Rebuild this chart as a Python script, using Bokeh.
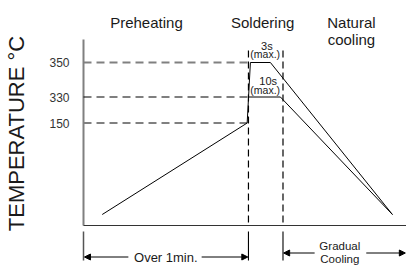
import numpy as np
from bokeh.plotting import figure
from bokeh.models import Range1d, FixedTicker, Arrow, NormalHead
from bokeh.core.properties import value
from bokeh.embed import file_html
from bokeh.resources import INLINE

# ---------------- data ----------------
TICK_TEMPS = [150, 330, 350]
TICK_LABELS = ["150", "330", "350"]

# reflow profile (schematic time units, °C)
PROFILE_350_T = [5.8, 50.7, 51.7, 57.9, 95.7]
PROFILE_350_C = [25, 150, 350, 350, 25]
PROFILE_330_T_END = [61.0, 95.7]          # plateau end, cooled
PROFILE_330_C = [330, 330, 25]

ZONE_EDGES = [51.1, 61.8]                 # preheat | soldering | cooling
ZONE_NAMES = ["Preheating", "Soldering", "Natural\ncooling"]
HOLD_LABELS = ["3s\n(max.)", "10s\n(max.)"]
DIM_LABELS = ["Over 1min.", "Gradual\nCooling"]
Y_TITLE = "TEMPERATURE °C"

# ---------------- schematic temperature scale ----------------
SCALE_T = [0, 25, 150, 330, 350]
SCALE_LV = [41, 52, 143.5, 169.5, 204]
def lv(t):
    return np.interp(t, SCALE_T, SCALE_LV)

FONT = value("Liberation Sans")
INK = "#1a1a1a"
GREY = "#808080"
X_END = 100.0
TXT_SHIFT = 4  # compensate svg baseline offset

p = figure(width=406, height=266, output_backend="svg", toolbar_location=None,
           x_range=Range1d(-0.93, 100.06), y_range=Range1d(0, 266),
           min_border_left=80, min_border_right=0, min_border_top=0, min_border_bottom=0)
p.xaxis.visible = False
p.grid.visible = False
p.outline_line_color = None
p.background_fill_color = "white"

ax = p.yaxis[0]
ax.ticker = FixedTicker(ticks=[float(lv(t)) for t in TICK_TEMPS])
ax.major_label_overrides = {float(lv(t)): s for t, s in zip(TICK_TEMPS, TICK_LABELS)}
ax.axis_line_color = None
ax.major_tick_line_color = None
ax.minor_tick_line_color = None
ax.major_label_standoff = 5
ax.major_label_text_font = "Liberation Sans"
ax.major_label_text_font_size = "12px"
ax.major_label_text_color = "#333333"
ax.axis_label = Y_TITLE
ax.axis_label_text_font = "Liberation Sans"
ax.axis_label_text_font_size = "22px"
ax.axis_label_text_font_style = "normal"
ax.axis_label_text_color = INK
ax.axis_label_standoff = 17

base = float(lv(0))
# axes lines
p.segment(x0=[0], y0=[base], x1=[0], y1=[227], line_color=GREY, line_width=2)
p.segment(x0=[0], y0=[base], x1=[X_END], y1=[base], line_color="#333333", line_width=1.2)

# horizontal reference dashes
t350 = PROFILE_350_T
ys = lv(np.array(PROFILE_350_C))
x330 = float(np.interp(lv(330), [ys[1], ys[2]], [t350[1], t350[2]]))
p.segment(x0=[0], y0=[lv(350)], x1=[t350[2]], y1=[lv(350)], line_color=GREY, line_width=2, line_dash="8 5")
p.segment(x0=[0], y0=[lv(330)], x1=[x330], y1=[lv(330)], line_color="black", line_width=1.2, line_dash="8 5")
p.segment(x0=[0], y0=[lv(150)], x1=[t350[1]], y1=[lv(150)], line_color=GREY, line_width=2, line_dash="8 5")

# zone boundaries
for xe in ZONE_EDGES:
    p.segment(x0=[xe], y0=[216], x1=[xe], y1=[base], line_color="black", line_width=1.2, line_dash="7 4")
# extension lines below axis
for xe in [0] + ZONE_EDGES:
    p.segment(x0=[xe], y0=[35], x1=[xe], y1=[6], line_color="#555555" if xe == 0 else "black",
              line_width=1.5 if xe == 0 else 1.1)

# profiles
p.line(PROFILE_350_T, lv(np.array(PROFILE_350_C)), line_color="black", line_width=1)
p.line([x330] + PROFILE_330_T_END, lv(np.array(PROFILE_330_C)), line_color="black", line_width=1)

# dimension arrows
def arrow(xs, xe, y):
    p.add_layout(Arrow(end=NormalHead(size=6, fill_color="black", line_color="black"),
                       x_start=xs, y_start=y, x_end=xe, y_end=y, line_color="black", line_width=1))
arrow(13.9, 0.3, 9.5)
arrow(36.6, ZONE_EDGES[0] - 0.2, 9.5)
arrow(71.6, ZONE_EDGES[1] + 0.2, 13.5)
arrow(87.6, X_END - 0.3, 13.5)

def txt(x, y, s, size, align="center", baseline="alphabetic"):
    p.text(x=[x], y=[y + TXT_SHIFT], text=[s], text_font=FONT, text_font_size=size, text_color=INK,
           text_align=align, text_baseline=baseline)

hdr = [19.5, 55.5, 83.0]
txt(hdr[0], 240, ZONE_NAMES[0], "15px")
txt(hdr[1], 240, ZONE_NAMES[1], "15px")
n1, n2 = ZONE_NAMES[2].split("\n")
txt(hdr[2], 240, n1, "15px")
txt(hdr[2], 223, n2, "15px")

h1a, h1b = HOLD_LABELS[0].split("\n")
h2a, h2b = HOLD_LABELS[1].split("\n")
txt(56.8, 217, h1a, "11px")
txt(56.3, 208.5, h1b, "10.5px")
txt(57.2, 181.3, h2a, "11px")
txt(56.3, 173, h2b, "10.5px")

txt(25.5, 5, DIM_LABELS[0], "13px")
g1, g2 = DIM_LABELS[1].split("\n")
txt(79.4, 17, g1, "11.5px")
txt(79.4, 3.5, g2, "11.5px")

open("out.html", "w").write(file_html(p, INLINE))
